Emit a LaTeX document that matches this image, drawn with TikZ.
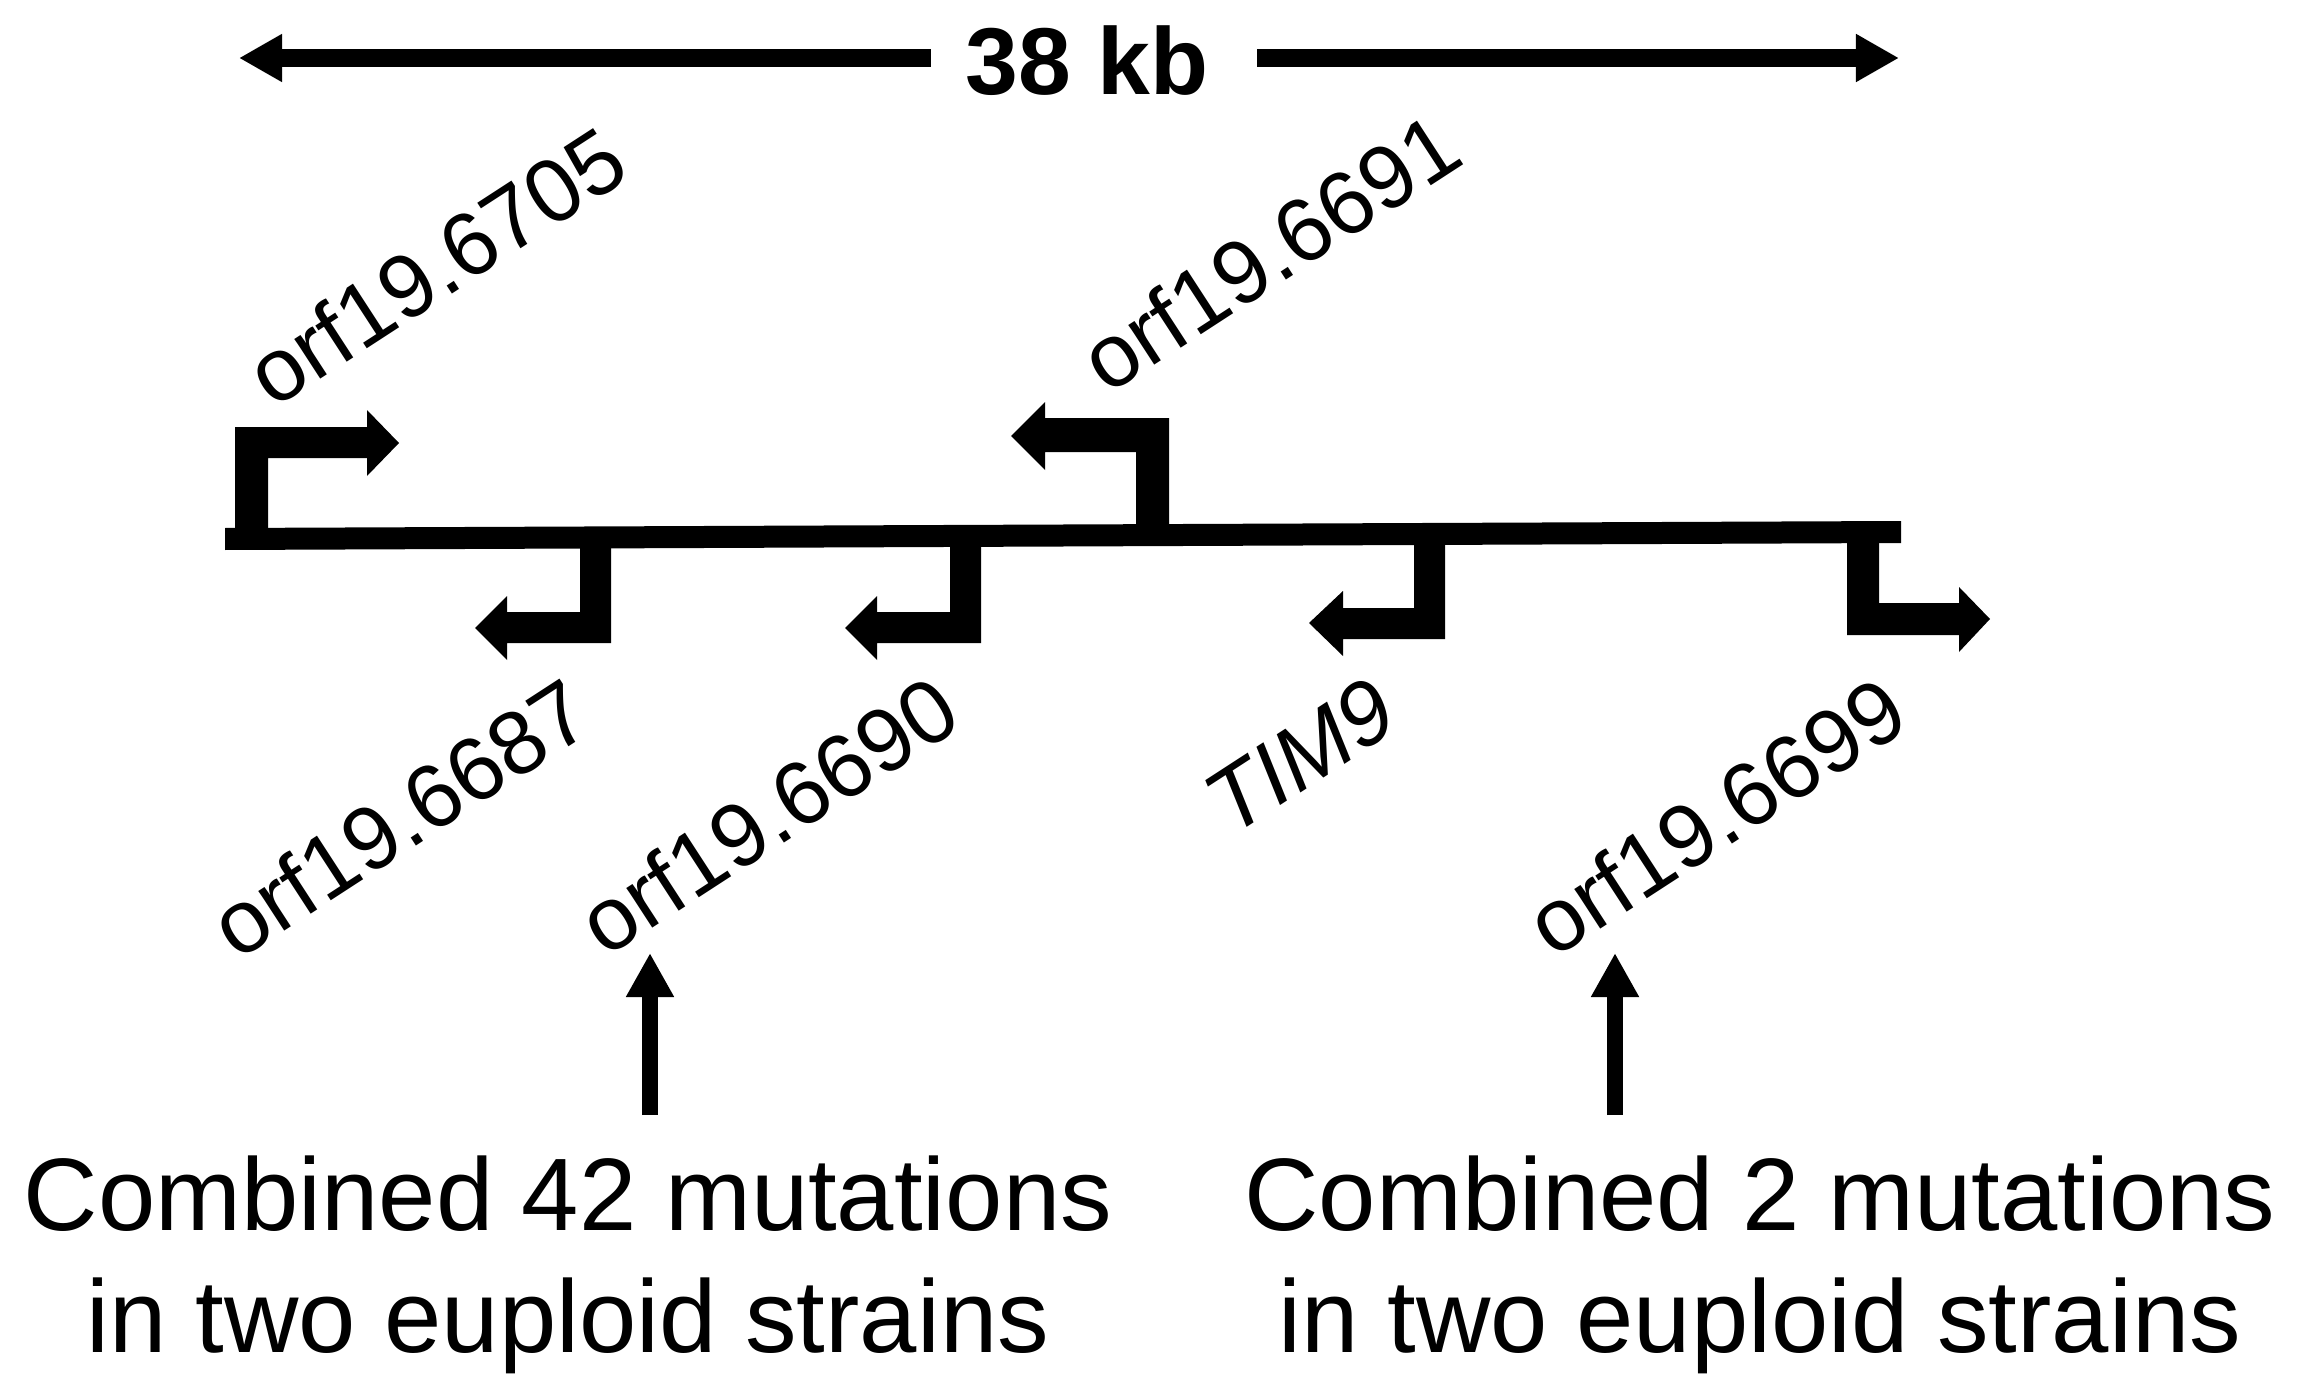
\documentclass[tikz,border=0pt]{standalone}
\usepackage{fontspec}
\setmainfont{Liberation Sans}
\usetikzlibrary{arrows.meta}
\tikzset{
  genebar/.style={fill=black},
  genelabel/.style={rotate=33, inner sep=0pt, font=\fontsize{25.5}{30}\selectfont},
  dimarrow/.style={line width=0.17cm, -{Triangle[length=0.43cm,width=0.45cm]}},
  hitarrow/.style={line width=0.16cm, -{Triangle[length=0.44cm,width=0.45cm]}},
  mutnote/.style={align=center, inner sep=0pt, font=\fontsize{29.3}{34.7}\selectfont}
}
\begin{document}
\begin{tikzpicture}[x=0.01cm,y=-0.01cm]
\useasboundingbox (0,0) rectangle (2302,1400);

% scale bar
\node[inner sep=0pt, font=\bfseries\fontsize{27}{32}\selectfont] (kb) at (1087,61) {38 kb};
\coordinate (ltip) at (239,58);
\coordinate (rtip) at (1899,58);
\draw[dimarrow] ([xshift=-0.34cm]kb.west |- ltip) -- (ltip);
\draw[dimarrow] ([xshift=0.48cm]kb.east |- rtip) -- (rtip);

% chromosome line
\fill[genebar] (225,528) -- (1901,521) -- (1901,543) -- (225,550) -- cycle;

% orf19.6705 (up, right)
\fill[genebar] (235,540) -- (235,427) -- (367,427) -- (367,410) -- (399,443) -- (367,476) -- (367,458) -- (268,458) -- (268,540) -- cycle;
% orf19.6691 (up, left)
\fill[genebar] (1169,535) -- (1169,418) -- (1045,418) -- (1045,402) -- (1011,436) -- (1045,470) -- (1045,452) -- (1136,452) -- (1136,535) -- cycle;
% orf19.6687 (down, left)
\fill[genebar] (611,540) -- (611,643) -- (507,643) -- (507,660) -- (475,628) -- (507,596) -- (507,612) -- (580,612) -- (580,540) -- cycle;
% orf19.6690 (down, left)
\fill[genebar] (981,538) -- (981,643) -- (877,643) -- (877,660) -- (845,628) -- (877,596) -- (877,612) -- (950,612) -- (950,538) -- cycle;
% TIM9 (down, left)
\fill[genebar] (1445,535) -- (1445,639) -- (1343,639) -- (1343,656) -- (1309,623) -- (1343,591) -- (1343,608) -- (1414,608) -- (1414,535) -- cycle;
% orf19.6699 (down, right)
\fill[genebar] (1847,532) -- (1847,635) -- (1959,635) -- (1959,652) -- (1990,619) -- (1959,587) -- (1959,603) -- (1879,603) -- (1879,532) -- cycle;

% gene labels
\node[genelabel] (l6705) at (436,266) {orf19.6705};
\node[genelabel] (l6691) at (1270,252) {orf19.6691};
\node[genelabel] (l6687) at (400,818) {orf19.6687};
\node[genelabel] (l6690) at (768,815) {orf19.6690};
\node[genelabel, font=\itshape\fontsize{25.5}{30}\selectfont] (ltim) at (1300,756) {TIM9};
\node[genelabel] (l6699) at (1716,816) {orf19.6699};

% notes
\node[mutnote] (n42) at (568,1265) {Combined 42 mutations\\in two euploid strains};
\node[mutnote] (n2) at (1760,1265) {Combined 2 mutations\\in two euploid strains};

\coordinate (a1s) at (650,1115);
\coordinate (a1e) at (650,953);
\coordinate (a2s) at (1615,1115);
\coordinate (a2e) at (1615,953);
\draw[hitarrow] (a1s) -- (a1e);
\draw[hitarrow] (a2s) -- (a2e);
\end{tikzpicture}
\end{document}
